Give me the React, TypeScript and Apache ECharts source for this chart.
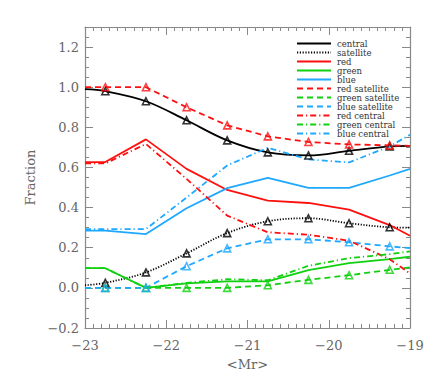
import React, { useEffect, useRef } from "react";
import * as echarts from "echarts";

// x positions: plot edges plus bin centres
const XS = [-23, -22.75, -22.25, -21.75, -21.25, -20.75, -20.25, -19.75, -19.25, -19];

const central = [0.99, 0.98, 0.93, 0.835, 0.735, 0.675, 0.66, 0.683, 0.705, 0.708];
const satellite = [0.013, 0.025, 0.077, 0.172, 0.273, 0.332, 0.347, 0.322, 0.302, 0.3];
const red = [0.627, 0.627, 0.74, 0.593, 0.488, 0.435, 0.423, 0.39, 0.313, 0.26];
const green = [0.098, 0.098, 0.0, 0.022, 0.032, 0.032, 0.088, 0.123, 0.143, 0.155];
const blue = [0.285, 0.285, 0.268, 0.397, 0.497, 0.548, 0.498, 0.498, 0.56, 0.593];
const redSatellite = [1.0, 1.0, 1.0, 0.9, 0.81, 0.755, 0.727, 0.715, 0.71, 0.708];
const greenSatellite = [0.0, 0.0, 0.0, 0.0, 0.0, 0.013, 0.04, 0.063, 0.09, 0.102];
const blueSatellite = [0.0, 0.0, 0.0, 0.108, 0.197, 0.242, 0.242, 0.227, 0.207, 0.198];
const redCentral = [0.62, 0.62, 0.717, 0.543, 0.36, 0.277, 0.265, 0.235, 0.143, 0.072];
const greenCentral = [0.098, 0.098, 0.0, 0.025, 0.043, 0.038, 0.11, 0.148, 0.168, 0.182];
const blueCentral = [0.293, 0.293, 0.293, 0.45, 0.61, 0.698, 0.64, 0.625, 0.705, 0.763];

const BLACK = "#000000";
const RED = "#ff1010";
const GREEN = "#10d010";
const BLUE = "#1ea8ff";

const SOLID: any = "solid";
const DOTTED = [1.2, 1.6];
const DASHED = [6, 4];
const DASHDOT = [6, 3, 1.2, 3];

type S = { name: string; data: number[]; color: string; dash: any; smooth?: boolean; markers?: boolean };

const SERIES: S[] = [
  { name: "central", data: central, color: BLACK, dash: SOLID, smooth: true, markers: true },
  { name: "satellite", data: satellite, color: BLACK, dash: DOTTED, smooth: true, markers: true },
  { name: "red", data: red, color: RED, dash: SOLID },
  { name: "green", data: green, color: GREEN, dash: SOLID },
  { name: "blue", data: blue, color: BLUE, dash: SOLID },
  { name: "red satellite", data: redSatellite, color: RED, dash: DASHED, markers: true },
  { name: "green satellite", data: greenSatellite, color: GREEN, dash: DASHED, markers: true },
  { name: "blue satellite", data: blueSatellite, color: BLUE, dash: DASHED, markers: true },
  { name: "red central", data: redCentral, color: RED, dash: DASHDOT },
  { name: "green central", data: greenCentral, color: GREEN, dash: DASHDOT },
  { name: "blue central", data: blueCentral, color: BLUE, dash: DASHDOT },
];

const FONT = "'DejaVu Serif', 'Liberation Serif', serif";
const fmtNum = (v: number, d: number) => (v < 0 ? "\u2212" : "") + Math.abs(v).toFixed(d);

export default function App() {
  const ref = useRef<HTMLDivElement>(null);
  useEffect(() => {
    if (!ref.current) return;
    const chart = echarts.init(ref.current, undefined, { renderer: "svg" });

    const lineSeries: any[] = SERIES.map((s) => ({
      name: s.name,
      type: "line",
      data: XS.map((x, i) => [x, s.data[i]]),
      showSymbol: false,
      symbol: "none",
      smooth: s.smooth ? 0.35 : false,
      lineStyle: { color: s.color, width: 1.8, type: s.dash },
      itemStyle: { color: s.color },
      z: 2,
    }));
    const markerSeries: any[] = SERIES.filter((s) => s.markers).map((s) => ({
      name: s.name + " pts",
      type: "scatter",
      data: XS.slice(1, 9).map((x, i) => [x, s.data[i + 1]]),
      symbol: "triangle",
      symbolSize: 7,
      itemStyle: { color: "rgba(255,255,255,0)", borderColor: s.color, borderWidth: 1.6 },
      z: 3,
    }));

    const legendItems: any[] = [];
    SERIES.forEach((s, i) => {
      const y = 43.5 + i * 9;
      legendItems.push({
        type: "line",
        shape: { x1: 297, y1: y, x2: 331, y2: y },
        style: { stroke: s.color, lineWidth: 1.8, lineDash: s.dash === SOLID ? null : s.dash },
      });
      legendItems.push({
        type: "text",
        x: 337,
        y: y,
        style: { text: s.name, fill: "#333", font: "8.5px " + FONT, verticalAlign: "middle", align: "left" },
      });
    });

    const axisCommon = {
      type: "value",
      axisLine: { show: true, onZero: false, lineStyle: { color: "#888", width: 1.2 } },
      axisTick: { show: true, inside: true, length: 8, lineStyle: { color: "#888" } },
      minorTick: { show: true, length: 4, lineStyle: { color: "#888" } },
      splitLine: { show: false },
      minorSplitLine: { show: false },
    };

    chart.setOption({
      animation: false,
      grid: { left: 85, right: 26, top: 27, bottom: 55 },
      xAxis: [
        {
          ...axisCommon,
          position: "bottom",
          min: -23,
          max: -19,
          interval: 1,
          minorTick: { ...axisCommon.minorTick, splitNumber: 10 },
          axisLabel: { color: "#666", fontSize: 13, fontFamily: FONT, margin: 11, formatter: (v: number) => fmtNum(v, 0) },
          name: "<Mr>",
          nameLocation: "middle",
          nameGap: 30,
          nameTextStyle: { color: "#666", fontSize: 13, fontFamily: FONT },
        },
        {
          ...axisCommon,
          position: "top",
          min: -23,
          max: -19,
          interval: 1,
          minorTick: { ...axisCommon.minorTick, splitNumber: 10 },
          axisLabel: { show: false },
        },
      ],
      yAxis: [
        {
          ...axisCommon,
          position: "left",
          min: -0.2,
          max: 1.3,
          interval: 0.2,
          minorTick: { ...axisCommon.minorTick, splitNumber: 4 },
          axisLabel: {
            color: "#666",
            fontSize: 13,
            fontFamily: FONT,
            margin: 6,
            formatter: (v: number) => (v > 1.25 ? "" : fmtNum(v, 1)),
          },
          name: "Fraction",
          nameLocation: "middle",
          nameGap: 46,
          nameRotate: 90,
          nameTextStyle: { color: "#666", fontSize: 13, fontFamily: FONT },
        },
        {
          ...axisCommon,
          position: "right",
          min: -0.2,
          max: 1.3,
          interval: 0.2,
          minorTick: { ...axisCommon.minorTick, splitNumber: 4 },
          axisLabel: { show: false },
        },
      ],
      graphic: [{ type: "group", children: legendItems, z: 10 }],
      series: [...lineSeries, ...markerSeries],
    });
    return () => chart.dispose();
  }, []);
  return (
    <div
      ref={ref}
      style={{ position: "absolute", left: 0, top: 0, width: 436, height: 383, background: "#fff" }}
    />
  );
}
